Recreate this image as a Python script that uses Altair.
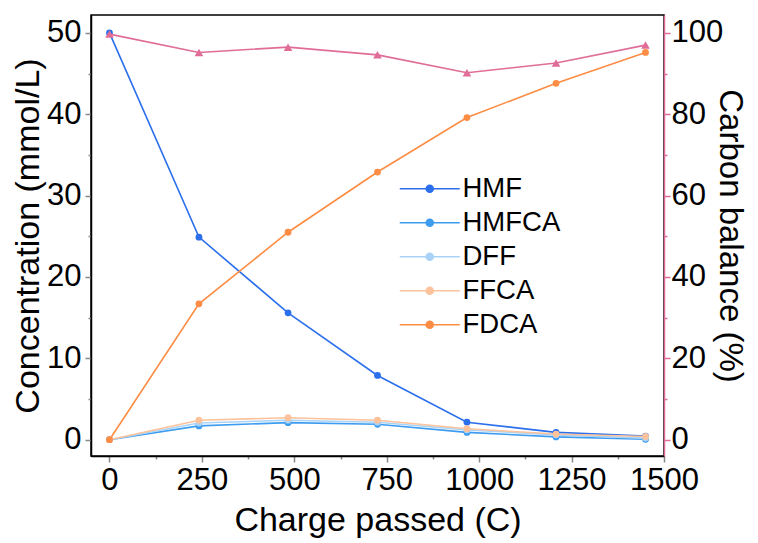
import altair as alt
import pandas as pd

charge = [0, 242, 483, 725, 967, 1208, 1450]
series_names = ["HMF", "HMFCA", "DFF", "FFCA", "FDCA"]
hmf = [50.0, 24.9, 15.6, 7.9, 2.15, 0.9, 0.45]
hmfca = [0.0, 1.7, 2.1, 1.9, 0.9, 0.35, 0.05]
dff = [0.0, 2.05, 2.4, 2.15, 1.2, 0.6, 0.2]
ffca = [0.0, 2.4, 2.7, 2.4, 1.35, 0.7, 0.4]
fdca = [0.0, 16.7, 25.5, 32.9, 39.6, 43.8, 47.6]
carbon = [99.7, 95.2, 96.5, 94.6, 90.2, 92.6, 97.0]
colors = ["#2b6fec", "#3d9cef", "#a9d3f6", "#fcc29b", "#fd8c44"]
pink = "#e06d98"

rows = []
for name, vals in zip(series_names, [hmf, hmfca, dff, ffca, fdca]):
    for c, v in zip(charge, vals):
        rows.append({"charge": c, "value": v, "series": name})
conc_df = pd.DataFrame(rows)
carb_df = pd.DataFrame({"charge": charge, "carbon": carbon})

FONT = "Liberation Sans"

x_enc = alt.X(
    "charge:Q",
    scale=alt.Scale(domain=[-50, 1500], nice=False, zero=False),
    axis=alt.Axis(
        values=list(range(0, 1501, 125)),
        labelExpr="datum.value % 250 === 0 ? datum.label : ''",
        tickSize={"condition": {"test": "datum.value % 250 === 0", "value": 6}, "value": 3},
        labelOverlap=False,
        labelFlush=False,
        format="d",
        title="Charge passed (C)",
        titlePadding=8,
        labelPadding=3,
    ),
)

y_left = alt.Y(
    "value:Q",
    scale=alt.Scale(domain=[-2, 52.2], nice=False, zero=False),
    axis=alt.Axis(
        values=list(range(0, 51, 5)),
        labelExpr="datum.value % 10 === 0 ? datum.label : ''",
        tickSize={"condition": {"test": "datum.value % 10 === 0", "value": 6}, "value": 3},
        labelOverlap=False,
        labelFlush=False,
        title="Concentration (mmol/L)",
        titlePadding=1,
        labelPadding=4,
    ),
)

legend_path = "M-3,0H3M-0.35,0A0.35,0.35,0,1,1,0.35,0A0.35,0.35,0,1,1,-0.35,0"
legend = alt.Legend(
    title=None,
    orient="none",
    legendX=325,
    legendY=160,
    symbolType=legend_path,
    symbolSize=400,
    symbolStrokeWidth=1.6,
    symbolOpacity=1,
    labelOffset=19,
    labelFont=FONT,
    labelFontSize=27.5,
    rowPadding=5,
    padding=0,
    labelLimit=300,
)

color_enc = alt.Color(
    "series:N",
    scale=alt.Scale(domain=series_names, range=colors),
    legend=legend,
    sort=series_names,
)

base = alt.Chart(conc_df)
conc_lines = base.mark_line(strokeWidth=1.6, clip=False).encode(x=x_enc, y=y_left, color=color_enc, detail="series:N")
conc_pts = base.mark_point(filled=True, size=46, opacity=1, shape="circle", clip=False).encode(
    x=x_enc, y=y_left, color=color_enc
)
conc = alt.layer(conc_lines, conc_pts)

y_right = alt.Y(
    "carbon:Q",
    scale=alt.Scale(domain=[-4, 104.4], nice=False, zero=False),
    axis=alt.Axis(
        orient="right",
        values=list(range(0, 101, 10)),
        labelExpr="datum.value % 20 === 0 ? datum.label : ''",
        tickSize={"condition": {"test": "datum.value % 20 === 0", "value": 6}, "value": 3},
        labelOverlap=False,
        labelFlush=False,
        title="Carbon balance (%)",
        titleFontSize=33,
        titlePadding=-10,
        labelPadding=1,
        domainColor=pink,
        tickColor=pink,
    ),
)
cb = alt.Chart(carb_df)
carb_line = cb.mark_line(color=pink, strokeWidth=1.6, clip=False).encode(x=x_enc, y=y_right)
carb_pts = cb.mark_point(filled=True, shape="triangle-up", size=75, color=pink, opacity=1, clip=False).encode(
    x=x_enc, y=y_right
)
carb = alt.layer(carb_line, carb_pts)

chart = (
    alt.layer(conc, carb)
    .resolve_scale(y="independent")
    .properties(
        width=573,
        height=441,
        autosize=alt.AutoSizeParams(type="none"),
        padding={"left": 83, "top": 7, "right": 86, "bottom": 86},
    )
    .configure_view(stroke="black", strokeWidth=1.5)
    .configure_axis(
        labelFont=FONT,
        titleFont=FONT,
        labelFontSize=31,
        titleFontSize=34,
        titleFontWeight="normal",
        grid=False,
        domainWidth=1.5,
        tickWidth=1.5,
        domainColor="black",
        labelColor="black",
        titleColor="black",
    )
)

chart.save("out.html", embed_options={"renderer": "svg", "actions": False})
